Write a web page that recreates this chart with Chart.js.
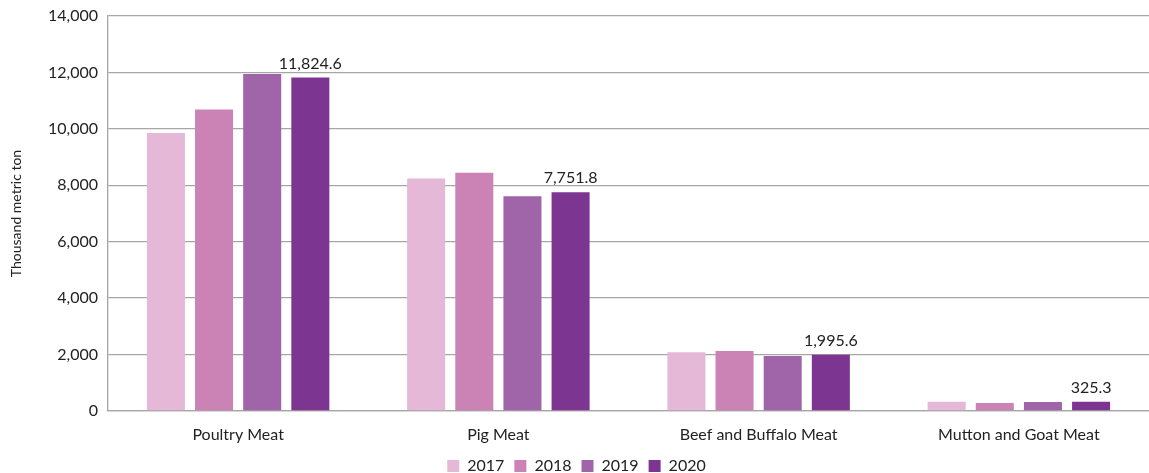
<!DOCTYPE html>
<html>
<head>
<meta charset="utf-8">
<script src="https://cdn.jsdelivr.net/npm/chart.js@4/dist/chart.umd.min.js"></script>
<style>
  html, body { margin: 0; padding: 0; background: #fff; }
  #wrap { width: 1149px; height: 473px; position: relative; }
</style>
</head>
<body>
<div id="wrap"><canvas id="meatChart"></canvas></div>
<script>
const categories = ['Poultry Meat', 'Pig Meat', 'Beef and Buffalo Meat', 'Mutton and Goat Meat'];
const years = ['2017', '2018', '2019', '2020'];
const values2017 = [9850, 8240, 2080, 325];
const values2018 = [10690, 8440, 2130, 280];
const values2019 = [11940, 7610, 1950, 322];
const values2020 = [11824.6, 7751.8, 1995.6, 325.3];
const yTicks = [0, 2000, 4000, 6000, 8000, 10000, 12000, 14000];
const colors = ['#e4b8d6', '#cb82b5', '#a064a8', '#7d3592'];

const FONT = 'Lato, "Open Sans", sans-serif';

// values printed above the 2020 bars only
const lastYearLabels = {
    id: 'lastYearLabels',
    afterDatasetsDraw(chart) {
        const ctx = chart.ctx;
        const idx = chart.data.datasets.length - 1;
        const meta = chart.getDatasetMeta(idx);
        ctx.save();
        ctx.font = '16px ' + FONT;
        ctx.fillStyle = '#222';
        ctx.textAlign = 'center';
        ctx.textBaseline = 'bottom';
        meta.data.forEach((bar, i) => {
            const v = chart.data.datasets[idx].data[i];
            const txt = v.toLocaleString('en-US', { minimumFractionDigits: 1, maximumFractionDigits: 1 });
            ctx.fillText(txt, bar.x, bar.y - 6);
        });
        ctx.restore();
    }
};

new Chart(document.getElementById('meatChart').getContext('2d'), {
    type: 'bar',
    data: {
        labels: categories,
        datasets: [
            { label: years[0], data: values2017, backgroundColor: colors[0] },
            { label: years[1], data: values2018, backgroundColor: colors[1] },
            { label: years[2], data: values2019, backgroundColor: colors[2] },
            { label: years[3], data: values2020, backgroundColor: colors[3] }
        ]
    },
    options: {
        responsive: true,
        maintainAspectRatio: false,
        animation: false,
        datasets: {
            bar: { categoryPercentage: 0.74, barPercentage: 0.79 }
        },
        layout: { padding: { top: 16, right: 0, bottom: -11, left: 4 } },
        scales: {
            y: {
                min: 0,
                max: 14000,
                afterBuildTicks(scale) {
                    scale.ticks = yTicks.map(v => ({ value: v }));
                },
                afterFit(scale) {
                    scale.width = 104;
                    scale.paddingTop = 0;
                    scale.paddingBottom = 0;
                },
                ticks: {
                    color: '#222',
                    font: { family: FONT, size: 16 },
                    padding: 10,
                    callback: v => v.toLocaleString('en-US')
                },
                grid: { color: '#a6a6a6', lineWidth: 1.3, drawTicks: false },
                border: { color: '#a6a6a6', width: 1.3 },
                title: {
                    display: true,
                    text: 'Thousand metric ton',
                    color: '#222',
                    font: { family: FONT, size: 14 },
                    padding: { top: 4, bottom: 4 }
                }
            },
            x: {
                afterFit(scale) { scale.height = 37; },
                ticks: {
                    color: '#222',
                    font: { family: FONT, size: 16 },
                    padding: 14
                },
                grid: { display: false, drawTicks: false },
                border: { color: '#a6a6a6', width: 1.3 }
            }
        },
        plugins: {
            legend: {
                position: 'bottom',
                labels: {
                    color: '#222',
                    font: { family: FONT, size: 16 },
                    boxWidth: 12,
                    boxHeight: 12,
                    padding: 10
                }
            },
            tooltip: { enabled: false }
        }
    },
    plugins: [lastYearLabels]
});
</script>
</body>
</html>
